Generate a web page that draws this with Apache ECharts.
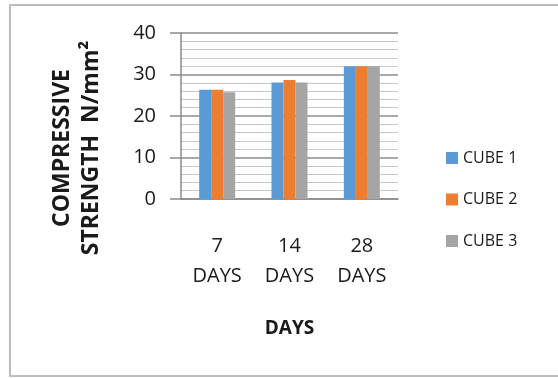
<!DOCTYPE html>
<html>
<head>
<meta charset="utf-8">
<script src="https://cdn.jsdelivr.net/npm/echarts@6/dist/echarts.min.js"></script>
<style>
  html, body { margin: 0; padding: 0; background: #fff; }
  #chart { width: 558px; height: 378px; }
</style>
</head>
<body>
<div id="chart"></div>
<script>
// Curing age groups and compressive strength (N/mm²) of three cubes
const categories = ['7\nDAYS', '14\nDAYS', '28\nDAYS'];
const cube1 = [26.3, 28.1, 32.0];
const cube2 = [26.3, 28.7, 32.0];
const cube3 = [25.7, 28.1, 32.0];
const seriesNames = ['CUBE 1', 'CUBE 2', 'CUBE 3'];
const yTicks = { min: 0, max: 40, interval: 10 };

const font = 'Open Sans, Liberation Sans, sans-serif';
const ink = '#1a1a1a';
const chart = echarts.init(document.getElementById('chart'));

chart.setOption({
  animation: false,
  backgroundColor: '#fff',
  color: ['#5B9BD5', '#ED7D31', '#A5A5A5'],
  textStyle: { fontFamily: font },
  graphic: [{
    type: 'rect',
    shape: { x: 10, y: 5, width: 560, height: 371 },
    style: { fill: 'none', stroke: '#bdbdbd', lineWidth: 2 },
    silent: true
  }],
  grid: {
    left: 181, right: 160, top: 33, bottom: 179,
    containLabel: false,
    outerBoundsMode: 'none'
  },
  legend: {
    orient: 'vertical',
    left: 441,
    top: 145,
    itemWidth: 12,
    itemHeight: 12,
    itemGap: 25.5,
    icon: 'rect',
    data: seriesNames,
    textStyle: { fontFamily: font, fontSize: 16, color: ink }
  },
  xAxis: {
    type: 'category',
    data: categories,
    axisLine: { show: true, lineStyle: { color: '#8c8c8c', width: 1.5 } },
    axisTick: { show: false },
    axisLabel: {
      margin: 32,
      fontFamily: font,
      fontSize: 20,
      lineHeight: 30,
      color: ink
    },
    name: 'DAYS',
    nameLocation: 'middle',
    nameGap: 120,
    nameTextStyle: { fontFamily: font, fontSize: 19, fontWeight: 'bold', color: ink }
  },
  yAxis: {
    type: 'value',
    min: yTicks.min,
    max: yTicks.max,
    interval: yTicks.interval,
    axisLine: { show: true, lineStyle: { color: '#8c8c8c', width: 1.5 } },
    axisTick: { show: true, length: 11, lineStyle: { color: '#8c8c8c', width: 1.5 } },
    axisLabel: { margin: 25, fontFamily: font, fontSize: 20, color: ink },
    splitLine: { show: true, lineStyle: { color: '#8c8c8c', width: 1.5 } },
    minorTick: { show: false, splitNumber: 5 },
    minorSplitLine: { show: true, lineStyle: { color: '#c8c8c8', width: 1 } },
    name: 'COMPRESSIVE\nSTRENGTH  N/mm²',
    nameLocation: 'middle',
    nameRotate: 90,
    nameGap: 75,
    nameTextStyle: {
      fontFamily: font, fontSize: 23, fontWeight: 'bold', color: ink,
      lineHeight: 29, align: 'center',
      padding: [0, 64, 0, 0]
    }
  },
  series: [
    { name: seriesNames[0], type: 'bar', data: cube1, barWidth: 12, barGap: '0%' },
    { name: seriesNames[1], type: 'bar', data: cube2, barWidth: 12, barGap: '0%' },
    { name: seriesNames[2], type: 'bar', data: cube3, barWidth: 12, barGap: '0%' }
  ]
});
</script>
</body>
</html>
